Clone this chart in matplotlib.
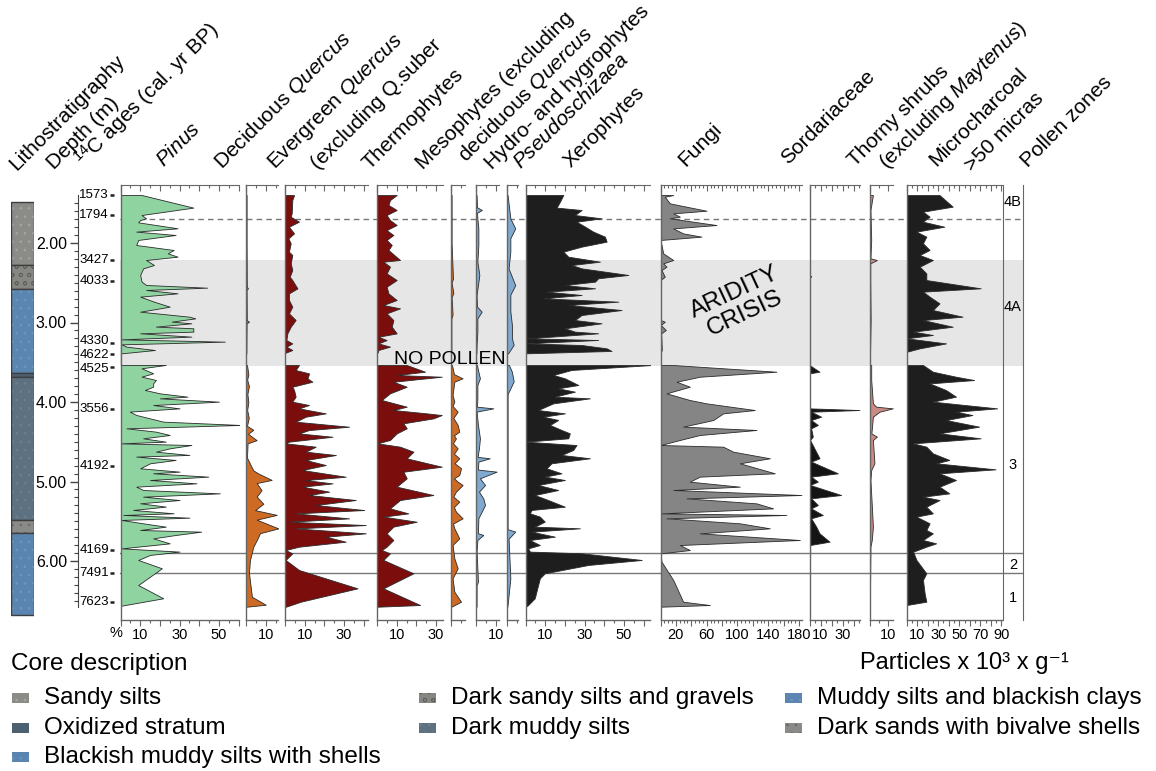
import numpy as np
import matplotlib
matplotlib.use('Agg')
import matplotlib.pyplot as plt
from matplotlib.patches import Rectangle
from matplotlib.ticker import MultipleLocator, FixedLocator, FuncFormatter, NullFormatter

plt.rcParams['font.family'] = ['Liberation Sans', 'DejaVu Sans']
plt.rcParams['mathtext.fontset'] = 'custom'
plt.rcParams['mathtext.rm'] = 'Liberation Sans'
plt.rcParams['mathtext.it'] = 'Liberation Sans:italic'
plt.rcParams['mathtext.bf'] = 'Liberation Sans:bold'
plt.rcParams['hatch.linewidth'] = 0.6

# ---------------- data (depth m, value) ----------------
PINUS = [(1.396, 10.7), (1.555, 37), (1.648, 10.7), (1.690, 13), (1.711, 10), (1.740, 9), (1.815, 29), (1.857, 8),
         (1.899, 28), (1.962, 9), (2.025, 8), (2.088, 27), (2.130, 24), (2.172, 29), (2.214, 13), (2.277, 17),
         (2.319, 11.5), (2.402, 10), (2.486, 10.7), (2.528, 13), (2.562, 44), (2.591, 13), (2.633, 29), (2.675, 10),
         (2.738, 17), (2.801, 25), (2.864, 10), (2.927, 35), (2.948, 38), (2.989, 26), (3.010, 36), (3.052, 18),
         (3.073, 37), (3.115, 37), (3.136, 10), (3.178, 36), (3.212, 0.5), (3.241, 53), (3.275, 0.5), (3.304, 3),
         (3.346, 17.5), (3.388, 0.5),
         (3.534, 23), (3.576, 10.7), (3.639, 16.6), (3.681, 10.7), (3.723, 18), (3.765, 16.6), (3.807, 16.6),
         (3.849, 12.4), (3.891, 20), (3.933, 34), (3.954, 20), (3.996, 50), (4.038, 16.6), (4.080, 30), (4.121, 4.7),
         (4.163, 8), (4.247, 21.7), (4.289, 61), (4.331, 3), (4.373, 18), (4.415, 25), (4.457, 11.5), (4.499, 23),
         (4.520, 0), (4.541, 36), (4.583, 25), (4.625, 18), (4.666, 35), (4.687, 8), (4.729, 28), (4.771, 15),
         (4.834, 10), (4.876, 30), (4.897, 16.6), (4.939, 44.6), (4.981, 15), (5.023, 38.6), (5.065, 8), (5.107, 11.5),
         (5.149, 50.5), (5.191, 11.5), (5.233, 30), (5.274, 10), (5.316, 23), (5.358, 6.4), (5.400, 27), (5.421, 1.4),
         (5.455, 35), (5.484, 0.5), (5.526, 11.5), (5.568, 23), (5.610, 10), (5.631, 41), (5.673, 28), (5.715, 16.6),
         (5.778, 25), (5.841, 0.5), (5.882, 30), (5.924, 15), (5.987, 9), (6.092, 21), (6.197, 15), (6.302, 9),
         (6.469, 21.7), (6.562, 0.5)]

DECQ = [(1.396, 0.3), (2.00, 0.3), (2.55, 0.4), (2.57, 1.0), (2.59, 0.3), (2.97, 0.4), (2.99, 1.5), (3.01, 0.3),
        (3.39, 0.2),
        (3.535, 0.5), (3.65, 1.2), (3.72, 0.6), (3.80, 1.5), (3.90, 0.7), (4.00, 1.2), (4.10, 0.6), (4.20, 1.4),
        (4.30, 0.5), (4.35, 3.7), (4.40, 1.0), (4.48, 5.4), (4.52, 0.8), (4.70, 0.5), (4.86, 3.7), (4.90, 6.3),
        (4.98, 13.0), (5.02, 5.4), (5.11, 7.9), (5.19, 5.4), (5.28, 8.8), (5.36, 4.6), (5.42, 15.6), (5.48, 5.4),
        (5.59, 16.4), (5.65, 7.1), (5.74, 5.4), (5.82, 3.7), (5.90, 2.9), (5.99, 2.0), (6.15, 1.5), (6.45, 3.0),
        (6.55, 10.0), (6.575, 0.3)]

EVERQ = [(1.397, 4.6), (1.460, 3.7), (1.627, 3.4), (1.669, 2.9), (1.732, 7.1), (1.795, 2.0), (1.879, 4.6),
         (1.942, 1.7), (2.005, 2.9), (2.109, 2.0), (2.151, 3.7), (2.256, 2.9), (2.340, 3.7), (2.424, 2.4),
         (2.466, 3.7), (2.571, 6.3), (2.634, 2.0), (2.717, 2.0), (2.801, 3.7), (2.885, 2.0), (2.969, 5.4),
         (3.053, 2.9), (3.137, 1.2), (3.221, 0.7), (3.263, 3.7), (3.304, 0.7), (3.346, 3.7), (3.380, 0.3),
         (3.535, 7.1), (3.598, 5.4), (3.640, 12.2), (3.703, 11.4), (3.745, 13.9), (3.808, 3.7), (3.850, 4.6),
         (3.933, 5.4), (3.996, 3.7), (4.038, 12.2), (4.080, 7.1), (4.143, 20.7), (4.185, 10.5), (4.248, 5.4),
         (4.311, 32.5), (4.353, 12.2), (4.395, 7.1), (4.437, 24.1), (4.499, 2.0), (4.520, 0.3), (4.562, 15.6),
         (4.625, 10.5), (4.667, 25.8), (4.730, 10.5), (4.793, 20.7), (4.856, 8.8), (4.940, 30.8), (4.982, 10.5),
         (5.024, 24.1), (5.065, 8.8), (5.128, 22.4), (5.170, 12.2), (5.233, 35.9), (5.296, 15.6), (5.359, 40.2),
         (5.401, 5.4), (5.464, 32.5), (5.506, 2.0), (5.548, 41.0), (5.590, 5.4), (5.652, 41.0), (5.694, 20.7),
         (5.757, 30.8), (5.820, 7.1), (5.862, 0.3), (5.904, 3.7), (5.987, 0.3), (6.113, 7.1), (6.344, 36.8),
         (6.512, 8.0), (6.575, 0.5)]

THERMO = [(1.397, 10.0), (1.460, 6.6), (1.522, 5.8), (1.585, 10.0), (1.648, 4.9), (1.711, 6.6), (1.774, 10.0),
          (1.837, 4.9), (1.900, 8.3), (1.962, 4.9), (2.025, 7.5), (2.088, 5.8), (2.214, 11.7), (2.235, 3.2),
          (2.298, 6.6), (2.382, 4.9), (2.466, 10.0), (2.550, 4.9), (2.634, 5.8), (2.717, 10.0), (2.780, 3.2),
          (2.822, 11.7), (2.885, 4.9), (2.969, 8.3), (3.053, 7.5), (3.137, 10.0), (3.179, 0.7), (3.221, 4.9),
          (3.263, 0.7), (3.304, 6.6), (3.346, 0.7), (3.380, 0.3),
          (3.535, 15.1), (3.619, 24.4), (3.661, 10.0), (3.682, 32.9), (3.745, 8.3), (3.808, 15.1), (3.891, 6.6),
          (3.975, 2.4), (4.059, 15.1), (4.101, 8.3), (4.143, 25.3), (4.164, 32.9), (4.206, 28.6), (4.268, 13.4),
          (4.331, 15.1), (4.395, 10.0), (4.478, 6.6), (4.520, 0.2), (4.562, 11.7), (4.625, 18.5), (4.709, 15.1),
          (4.814, 32.9), (4.877, 13.4), (4.960, 15.1), (5.065, 10.0), (5.170, 28.6), (5.233, 11.7), (5.338, 6.6),
          (5.401, 15.9), (5.442, 3.2), (5.506, 20.2), (5.568, 8.3), (5.652, 4.9), (5.736, 8.3), (5.820, 4.9),
          (5.862, 2.4), (5.904, 6.6), (5.987, 3.2), (6.155, 18.5), (6.344, 3.2), (6.554, 21.9), (6.575, 0.2)]

MESO = [(1.396, 0.3), (2.00, 0.3), (2.45, 1.0), (2.50, 0.3), (2.63, 1.2), (2.68, 0.3), (2.90, 0.8), (2.95, 0.2),
        (3.39, 0.2),
        (3.535, 0.5), (3.65, 1.5), (3.702, 5.9), (3.744, 1.7), (3.912, 0.8), (3.996, 1.7), (4.05, 0.8),
        (4.121, 3.4), (4.20, 1.2), (4.289, 3.4), (4.373, 4.2), (4.42, 1.5), (4.457, 2.5), (4.52, 1.0), (4.583, 3.4),
        (4.65, 1.5), (4.708, 4.2), (4.77, 1.8), (4.834, 5.1), (4.918, 4.2), (4.96, 1.5), (5.002, 3.4), (5.044, 5.9),
        (5.128, 2.5), (5.19, 1.2), (5.254, 4.2), (5.32, 1.5), (5.379, 2.5), (5.463, 5.9), (5.53, 1.0), (5.589, 1.7),
        (5.715, 4.2), (5.799, 0.8), (5.966, 1.7), (6.092, 3.4), (6.218, 0.8), (6.386, 1.7), (6.512, 5.1),
        (6.575, 0.2)]

HYDRO = [(1.396, 0.3), (1.55, 0.5), (1.585, 3.0), (1.62, 0.5), (1.690, 0.7), (1.816, 1.2), (2.025, 1.2),
         (2.235, 0.7), (2.402, 1.7), (2.654, 0.3), (2.80, 0.5), (2.864, 2.9), (2.948, 0.7), (3.115, 0.7),
         (3.283, 0.3), (3.39, 0.2),
         (3.535, 0.5), (3.618, 1.2), (3.702, 2.0), (3.786, 0.7), (3.954, 0.7), (4.059, 0.5), (4.080, 8.8),
         (4.121, 0.3), (4.289, 1.0), (4.457, 2.0), (4.583, 1.5), (4.69, 0.8), (4.708, 7.0), (4.750, 1.2),
         (4.85, 1.0), (4.876, 10.5), (4.960, 2.0), (5.044, 4.6), (5.128, 1.5), (5.212, 3.7), (5.296, 4.6),
         (5.463, 1.2), (5.65, 1.0), (5.673, 3.7), (5.736, 0.7), (5.882, 0.3), (6.26, 1.0), (6.30, 0.3),
         (6.575, 0.3)]

PSEUDO = [(1.396, 0.3), (1.69, 1.7), (1.816, 4.2), (1.94, 1.7), (2.11, 1.7), (2.32, 0.8), (2.53, 4.2),
          (2.65, 1.7), (2.86, 1.7), (3.03, 2.5), (3.20, 2.5), (3.28, 3.4), (3.39, 0.5),
          (3.535, 1.0), (3.62, 2.5), (3.74, 3.4), (3.83, 1.7), (3.90, 0.3), (5.60, 0.3), (5.63, 4.2), (5.72, 0.8),
          (6.22, 1.7), (6.575, 0.2)]

XERO = [(1.396, 19.2), (1.480, 17.5), (1.555, 15.8), (1.585, 28.5), (1.648, 25.1), (1.690, 38.6), (1.732, 25.9),
        (1.794, 30.2), (1.857, 34.4), (1.920, 40.3), (1.983, 41.2), (2.046, 28.5), (2.109, 19.2), (2.172, 21.7),
        (2.235, 37.8), (2.277, 23.4), (2.319, 28.5), (2.402, 52.2), (2.444, 36.9), (2.486, 35.3), (2.528, 20.0),
        (2.570, 35.3), (2.612, 10.7), (2.654, 28.5), (2.696, 9.0), (2.738, 47.1), (2.780, 21.7), (2.843, 48.8),
        (2.906, 28.5), (2.969, 25.1), (3.010, 38.6), (3.073, 20.0), (3.115, 25.1), (3.136, 36.9), (3.178, 13.2),
        (3.199, 0.5), (3.220, 36.9), (3.262, 0.5), (3.283, 28.5), (3.325, 41.2), (3.358, 43.7), (3.388, 0),
        (3.535, 64.1), (3.597, 23.4), (3.660, 14.1), (3.702, 20.0), (3.786, 26.8), (3.828, 16.6), (3.870, 25.1),
        (3.933, 14.9), (3.954, 32.7), (4.017, 14.1), (4.101, 6.4), (4.143, 20.0), (4.185, 9.0), (4.226, 16.6),
        (4.289, 12.4), (4.352, 18.3), (4.394, 22.5), (4.457, 21.7), (4.499, 0), (4.541, 25.9), (4.604, 24.2),
        (4.666, 18.3), (4.708, 32.7), (4.771, 13.2), (4.834, 10.7), (4.897, 18.3), (4.939, 9.8), (4.981, 20.0),
        (5.044, 6.4), (5.107, 16.6), (5.170, 4.7), (5.233, 11.5), (5.317, 20.0), (5.358, 3.1), (5.400, 2.2),
        (5.442, 7.3), (5.505, 9.8), (5.568, 4.7), (5.589, 27.6), (5.631, 3.1), (5.694, 14.9), (5.736, 2.2),
        (5.799, 7.3), (5.841, 1.4), (5.882, 2.2), (5.903, 28.5), (5.987, 59.0), (6.050, 31.9), (6.155, 9.8),
        (6.218, 7.3), (6.302, 6.4), (6.469, 4.7), (6.553, 1.4), (6.578, 0)]

FUNGI = [(1.397, 16.5), (1.418, 5.6), (1.501, 12.1), (1.594, 59.7), (1.627, 16.5), (1.669, 25.1), (1.690, 12.1),
         (1.774, 72.7), (1.816, 16.5), (1.879, 29.4), (1.920, 53.2), (1.962, 0), (2.130, 3.5), (2.214, 16.5),
         (2.256, 3.5), (2.298, 7.8), (2.340, 1.3), (2.424, 5.6), (2.466, 0), (2.969, 0), (2.990, 5.6),
         (3.032, 0.4), (3.095, 6.9), (3.137, 0.9), (3.346, 1.7), (3.380, 0),
         (3.535, 16.5), (3.619, 150.6), (3.682, 51.1), (3.745, 20.8), (3.808, 38.1), (3.891, 7.8), (3.975, 38.1),
         (4.017, 59.7), (4.101, 122.5), (4.143, 81.4), (4.227, 68.4), (4.310, 29.4), (4.352, 124.7), (4.415, 51.1),
         (4.478, 25.1), (4.541, 0), (4.562, 81.4), (4.625, 94.4), (4.708, 142.0), (4.771, 103.0), (4.897, 148.5),
         (4.939, 51.1), (5.002, 38.1), (5.065, 103.0), (5.107, 16.5), (5.170, 183.1), (5.212, 33.8), (5.275, 124.7),
         (5.338, 146.3), (5.401, 0), (5.421, 163.6), (5.463, 7.8), (5.526, 103.0), (5.589, 142.0), (5.652, 51.1),
         (5.736, 181.0), (5.799, 25.1), (5.862, 38.1), (5.904, 0), (6.008, 1.3), (6.239, 16.5), (6.512, 29.4),
         (6.554, 64.1), (6.575, 0)]

SORD = [(1.396, 0), (2.40, 0), (2.42, 1.5), (2.44, 0), (3.39, 0),
        (3.535, 0), (3.619, 9.1), (3.640, 0), (4.080, 0), (4.101, 45.5), (4.122, 1.5), (4.185, 10.6), (4.227, 1.5),
        (4.289, 7.6), (4.331, 1.5), (4.436, 3.0), (4.478, 0.5), (4.708, 9.1), (4.750, 1.5), (4.897, 25.8),
        (4.939, 1.5), (5.002, 7.6), (5.044, 0.5), (5.170, 28.8), (5.212, 1.5), (5.296, 7.6), (5.338, 1.5),
        (5.421, 12.1), (5.463, 1.5), (5.568, 6.1), (5.652, 9.1), (5.757, 18.2), (5.799, 0.6), (6.575, 0.3)]

THORNY = [(1.397, 1.8), (1.585, 0.5), (1.962, 0.9), (2.193, 0.5), (2.214, 3.9), (2.256, 0.4), (2.466, 0.4),
          (2.969, 0.6), (3.380, 0.3),
          (3.535, 0.9), (3.723, 0.9), (4.017, 1.8), (4.059, 3.5), (4.080, 12.3), (4.122, 5.3), (4.185, 1.8),
          (4.395, 1.0), (4.436, 3.9), (4.478, 1.8), (4.771, 2.6), (4.855, 0.9), (4.981, 0.5), (5.568, 1.8),
          (5.736, 1.2), (5.820, 0.5), (6.575, 0.2)]

MICRO = [(1.397, 31.3), (1.543, 43.8), (1.606, 15.6), (1.669, 21.9), (1.732, 15.6), (1.795, 35.9), (1.857, 9.4),
         (1.920, 18.8), (2.004, 15.6), (2.088, 21.9), (2.151, 12.5), (2.214, 25.0), (2.298, 12.5), (2.382, 18.8),
         (2.466, 18.8), (2.570, 70.3), (2.612, 15.6), (2.675, 21.9), (2.759, 31.3), (2.843, 25.0), (2.927, 53.1),
         (2.969, 15.6), (3.053, 43.8), (3.115, 6.3), (3.157, 25.0), (3.199, 0), (3.263, 37.5), (3.325, 12.5),
         (3.367, 0.6), (3.388, 0),
         (3.535, 15.6), (3.619, 25.0), (3.682, 46.9), (3.724, 64.1), (3.766, 21.9), (3.850, 37.5), (3.933, 46.9),
         (3.996, 25.0), (4.080, 85.9), (4.122, 46.9), (4.164, 62.5), (4.227, 37.5), (4.310, 68.8), (4.394, 31.3),
         (4.457, 70.3), (4.520, 6.3), (4.562, 18.8), (4.646, 25.0), (4.729, 40.6), (4.771, 28.1), (4.847, 84.4),
         (4.897, 31.3), (4.981, 46.9), (5.065, 31.3), (5.149, 40.6), (5.191, 15.6), (5.233, 31.3), (5.317, 18.8),
         (5.401, 25.0), (5.442, 9.4), (5.526, 21.9), (5.610, 18.8), (5.652, 25.0), (5.736, 15.6), (5.778, 28.1),
         (5.820, 18.8), (5.883, 6.3), (5.987, 9.4), (6.071, 14.1), (6.155, 18.8), (6.239, 15.6), (6.407, 17.2),
         (6.512, 18.8), (6.554, 0), (6.575, 0)]

LITHO_UNITS = ['Sandy silts', 'Dark sandy silts and gravels', 'Muddy silts and blackish clays',
               'Oxidized stratum', 'Dark muddy silts', 'Dark sands with bivalve shells',
               'Blackish muddy silts with shells']
LITHO_TOP = [1.484, 2.277, 2.579, 3.635, 3.686, 5.484, 5.648]
LITHO_BOT = [2.277, 2.579, 3.635, 3.686, 5.484, 5.648, 6.679]

AGES = [1573, 1794, 3427, 4033, 4330, 4622, 4525, 3556, 4192, 4169, 7491, 7623]
AGE_DEPTHS = [1.397, 1.648, 2.214, 2.478, 3.262, 3.396, 3.564, 4.092, 4.805, 5.862, 6.155, 6.512]
AGE_LABEL_DEPTHS = [1.397, 1.648, 2.214, 2.478, 3.235, 3.410, 3.585, 4.092, 4.805, 5.862, 6.155, 6.512]

DEPTH_TICKS = [2.0, 3.0, 4.0, 5.0, 6.0]
ZONE_LABELS = ['4B', '4A', '3', '2', '1']
ZONE_LABEL_DEPTHS = [1.48, 2.80, 4.79, 6.05, 6.47]
ZONE_DASHED = 1.702
ZONE_SOLID = [5.904, 6.155]
ARIDITY = (2.214, 3.547)
GAP_MID = 3.46

# ---------------- styling / layout ----------------
LITHO_COLORS = {
    'Sandy silts': ('#8b8b88', '#a5a5a2', '..'),
    'Dark sandy silts and gravels': ('#868682', '#5f5f5c', 'oo'),
    'Muddy silts and blackish clays': ('#5b86b1', '#6f97bf', '..'),
    'Oxidized stratum': ('#4d6070', '#5b6e7e', ''),
    'Dark muddy silts': ('#5e7181', '#6d8090', '..'),
    'Dark sands with bivalve shells': ('#8a8a88', '#6a6a68', '..'),
    'Blackish muddy silts with shells': ('#5a85b0', '#6f97bf', '..'),
}

W, H = 1156, 771
fig = plt.figure(figsize=(W / 100, H / 100), dpi=100)
Y0, Y1 = 185, 620
D_TOP = 2 + (Y0 - 243) / 79.5
D_BOT = 2 + (Y1 - 243) / 79.5
AX_COL = '#666666'


def px_ax(x0, x1, y0=Y0, y1=Y1):
    return fig.add_axes([x0 / W, 1 - y1 / H, (x1 - x0) / W, (y1 - y0) / H])


def ftext(x, y, s, **kw):
    return fig.text(x / W, 1 - y / H, s, **kw)


# background: aridity band and zone boundaries
axb = px_ax(120, 1023)
axb.set_ylim(D_BOT, D_TOP)
axb.set_xlim(0, 1)
axb.axis('off')
axb.axhspan(ARIDITY[0], ARIDITY[1], color='#e6e6e6', lw=0)
axb.axhline(ZONE_DASHED, color='#777777', lw=1.0, ls=(0, (4, 3)))
for d in ZONE_SOLID:
    axb.axhline(d, color='#777777', lw=1.0)

# lithology column
axl = px_ax(11, 34)
axl.set_ylim(D_BOT, D_TOP)
axl.set_xlim(0, 1)
axl.axis('off')
for name, t, b in zip(LITHO_UNITS, LITHO_TOP, LITHO_BOT):
    fc, hc, hatch = LITHO_COLORS[name]
    axl.add_patch(Rectangle((0, t), 1, b - t, facecolor=fc, edgecolor=hc, hatch=hatch, lw=0))
    axl.add_patch(Rectangle((0, t), 1, b - t, facecolor='none', edgecolor='#3e3e3e', lw=1.0))

# depth axis
axd = px_ax(78, 79)
axd.set_ylim(D_BOT, D_TOP)
axd.patch.set_visible(False)
for s in ('top', 'right', 'bottom'):
    axd.spines[s].set_visible(False)
axd.spines['left'].set_bounds(1.40, 6.58)
axd.spines['left'].set_color('#444444')
axd.set_xticks([])
axd.yaxis.set_major_locator(FixedLocator(DEPTH_TICKS))
axd.yaxis.set_major_formatter(FuncFormatter(lambda v, p: f"{v:.2f}"))
axd.yaxis.set_minor_locator(FixedLocator(np.round(np.arange(1.5, 6.55, 0.1), 2)))
axd.tick_params(axis='y', which='major', length=6, width=1, color='#444444', labelsize=11.5, pad=2)
axd.tick_params(axis='y', which='minor', length=3, width=0.8, color='#444444')

# ages column
axa = px_ax(79, 118)
axa.set_ylim(D_BOT, D_TOP)
axa.set_xlim(0, 39)
axa.axis('off')
for a, d, dl in zip(AGES, AGE_DEPTHS, AGE_LABEL_DEPTHS):
    axa.text(30, dl, str(a), ha='right', va='center', fontsize=9.5)
    axa.plot([31, 35], [d, d], color='#222222', lw=1.8, solid_capstyle='butt')

# ---------------- panels ----------------
PANELS = [
    (PINUS, '#8fd3a0', 120.5, 239, 60.2, 10, 5, [10, 30, 50]),
    (DECQ, '#cd6a24', 246, 278, 16.2, 10, 5, [10]),
    (EVERQ, '#7b0d0d', 285, 368, 42.1, 10, 5, [10, 30]),
    (THERMO, '#7b0d0d', 377, 443, 33.5, 10, 5, [10, 30]),
    (MESO, '#cd6a24', 451, 465, 7.1, 10, 5, []),
    (HYDRO, '#7fa9cf', 476, 499, 11.7, 10, 5, [10]),
    (PSEUDO, '#7fa9cf', 507, 518, 5.6, 10, 5, []),
    (XERO, '#1e1e1e', 525.5, 650, 63.2, 10, 5, [10, 30, 50]),
    (FUNGI, '#858585', 660.5, 802, 183.8, 20, 5, [20, 60, 100, 140, 180]),
    (SORD, '#141414', 809.5, 860, 45.9, 10, 5, [10, 30]),
    (THORNY, '#c98b83', 869.5, 893, 12.4, 10, 5, [10]),
    (MICRO, '#1e1e1e', 906.5, 1002, 90.5, 10, 5, [10, 30, 50, 70, 90]),
]

for data, color, x0, x1, xmax, major, minor, labels in PANELS:
    ax = px_ax(x0, x1)
    ax.set_xlim(0, xmax)
    ax.set_ylim(D_BOT, D_TOP)
    ax.patch.set_visible(False)
    arr = np.array(data, dtype=float)
    for seg in (arr[arr[:, 0] < GAP_MID], arr[arr[:, 0] > GAP_MID]):
        ax.fill_betweenx(seg[:, 0], 0, seg[:, 1], facecolor=color, edgecolor='#2b2b2b',
                         linewidth=0.6, zorder=3)
    ax.spines['right'].set_visible(False)
    ax.spines['top'].set_visible(False)
    for s in ('left', 'bottom'):
        ax.spines[s].set_color(AX_COL)
        ax.spines[s].set_linewidth(1.0)
    ax.spines['left'].set_zorder(4)
    ax.set_yticks([])
    ax.xaxis.set_major_locator(MultipleLocator(major))
    ax.xaxis.set_minor_locator(MultipleLocator(minor))
    ax.xaxis.set_major_formatter(FuncFormatter(
        lambda v, p, labels=labels: f"{v:g}" if any(abs(v - l) < 1e-6 for l in labels) else ""))
    ax.tick_params(axis='x', which='major', direction='out', length=4, width=0.8, color=AX_COL,
                   labelsize=10.5, pad=1.5)
    ax.tick_params(axis='x', which='minor', direction='out', length=2.2, width=0.8, color=AX_COL)
    sec = ax.secondary_xaxis('top')
    sec.xaxis.set_major_locator(MultipleLocator(major))
    sec.xaxis.set_minor_locator(MultipleLocator(minor))
    sec.xaxis.set_major_formatter(NullFormatter())
    sec.tick_params(axis='x', which='major', direction='in', length=4, width=0.8, color=AX_COL)
    sec.tick_params(axis='x', which='minor', direction='in', length=2.2, width=0.8, color=AX_COL)
    sec.spines['top'].set_color(AX_COL)

# pollen zone column
axz = px_ax(1003, 1023)
axz.set_ylim(D_BOT, D_TOP)
axz.set_xlim(0, 1)
axz.patch.set_visible(False)
axz.spines['top'].set_visible(False)
axz.spines['bottom'].set_visible(False)
for s in ('left', 'right'):
    axz.spines[s].set_color(AX_COL)
axz.set_xticks([])
axz.set_yticks([])
for lab, d in zip(ZONE_LABELS, ZONE_LABEL_DEPTHS):
    axz.text(0.5, d, lab, ha='center', va='center', fontsize=10.5)

# ---------------- texts ----------------
HEADERS = [
    (16.6, 171, 'Lithostratigraphy'),
    (54, 170, 'Depth (m)'),
    (84, 168, r'$^{14}$C ages (cal. yr BP)'),
    (164, 168, r'$\it{Pinus}$'),
    (222, 170, r'Deciduous $\it{Quercus}$'),
    (275, 170, r'Evergreen $\it{Quercus}$'),
    (318, 170, '(excluding Q.suber'),
    (370, 170, 'Thermophytes'),
    (423, 170, 'Mesophytes (excluding'),
    (466, 163, r'deciduous $\it{Quercus}$'),
    (492, 170, 'Hydro- and hygrophytes'),
    (521, 170, r'$\it{Pseudoschizaea}$'),
    (571, 168, 'Xerophytes'),
    (685, 167, 'Fungi'),
    (788, 165, 'Sordariaceae'),
    (855, 167, 'Thorny shrubs'),
    (887, 170, r'(excluding $\it{Maytenus}$)'),
    (936, 167, 'Microcharcoal'),
    (972, 172, '>50 micras'),
    (1028, 168, 'Pollen zones'),
]
for x, y, s in HEADERS:
    ftext(x, y, s, rotation=45, rotation_mode='anchor', ha='left', va='baseline', fontsize=15)

ftext(116, 633, '%', ha='center', va='center', fontsize=10.5)
ftext(450, 359, 'NO POLLEN', ha='center', va='center', fontsize=14)
ftext(740, 303, 'ARIDITY\nCRISIS', ha='center', va='center', fontsize=17.5, rotation=25,
      linespacing=1.1, multialignment='center')

# legend
ftext(11, 664, 'Core description', ha='left', va='center', fontsize=17.5)
ftext(1069, 663, 'Particles x 10³ x g⁻¹', ha='right', va='center', fontsize=17)
LEGEND_POS = {
    'Sandy silts': (12, 698), 'Oxidized stratum': (12, 728), 'Blackish muddy silts with shells': (12, 757),
    'Dark sandy silts and gravels': (419, 698), 'Dark muddy silts': (419, 728),
    'Muddy silts and blackish clays': (785, 698), 'Dark sands with bivalve shells': (785, 728),
}
for name in LITHO_UNITS:
    x, y = LEGEND_POS[name]
    fc, hc, hatch = LITHO_COLORS[name]
    fig.add_artist(Rectangle((x / W, 1 - (y + 5) / H), 17 / W, 10 / H, transform=fig.transFigure,
                             facecolor=fc, edgecolor=hc, hatch=hatch, lw=0))
    ftext(x + 32, y, name, ha='left', va='center', fontsize=17.5)

fig.savefig('out.png', dpi=100)
